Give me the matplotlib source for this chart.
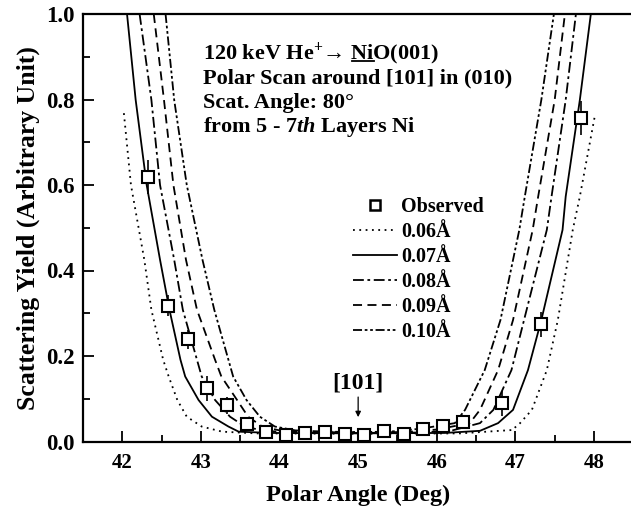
import numpy as np
import matplotlib
matplotlib.use("Agg")
import matplotlib.pyplot as plt
from matplotlib.lines import Line2D

# font: Times-like bold everywhere
plt.rcParams['font.family'] = ['Liberation Serif', 'DejaVu Serif', 'DejaVu Sans']
plt.rcParams['font.weight'] = 'bold'
plt.rcParams['mathtext.fontset'] = 'custom'
plt.rcParams['mathtext.rm'] = 'Liberation Serif:bold'
plt.rcParams['mathtext.bf'] = 'Liberation Serif:bold'
plt.rcParams['mathtext.it'] = 'Liberation Serif:bold:italic'

obs_angle = [42.33, 42.58, 42.83, 43.08, 43.33, 43.58, 43.83, 44.08, 44.33, 44.58,
             44.83, 45.08, 45.33, 45.58, 45.83, 46.08, 46.33, 46.83, 47.33, 47.83]
obs_yield = [0.619, 0.318, 0.239, 0.124, 0.085, 0.041, 0.022, 0.015, 0.019, 0.022,
             0.017, 0.015, 0.025, 0.017, 0.029, 0.037, 0.046, 0.089, 0.274, 0.756]
obs_err = [0.040, 0.025, 0.022, 0.030, 0.020, 0.012, 0.010, 0.008, 0.008, 0.008,
           0.008, 0.008, 0.008, 0.008, 0.010, 0.010, 0.012, 0.030, 0.030, 0.040]

# simulated curves for different thermal vibration amplitudes
x_006 = [42.02, 42.11, 42.28, 42.37, 42.52, 42.59, 42.70, 42.82, 43.01, 43.27, 43.70,
         45.00, 46.30, 46.97, 46.99, 47.06, 47.21, 47.40, 47.54, 47.73, 47.82, 48.01]
y_006 = [0.768, 0.600, 0.425, 0.308, 0.191, 0.152, 0.097, 0.058, 0.035, 0.023, 0.019,
         0.018, 0.019, 0.027, 0.032, 0.043, 0.074, 0.167, 0.284, 0.495, 0.573, 0.761]

x_007 = [42.06, 42.17, 42.31, 42.48, 42.60, 42.74, 42.80, 42.97, 43.14, 43.35, 43.48, 43.90,
         45.00, 46.10, 46.55, 46.78, 46.97, 47.16, 47.33, 47.60, 47.64, 47.82, 47.96]
y_007 = [1.000, 0.799, 0.600, 0.425, 0.308, 0.191, 0.152, 0.097, 0.058, 0.035, 0.023, 0.020,
         0.019, 0.020, 0.025, 0.043, 0.074, 0.167, 0.284, 0.495, 0.573, 0.799, 1.000]

x_008 = [42.22, 42.37, 42.48, 42.66, 42.77, 42.95, 43.01, 43.18, 43.37, 43.56, 43.80, 44.20,
         45.00, 45.80, 46.20, 46.55, 46.72, 46.95, 47.11, 47.40, 47.46, 47.64, 47.77]
y_008 = [1.000, 0.799, 0.600, 0.425, 0.308, 0.191, 0.152, 0.097, 0.058, 0.035, 0.025, 0.021,
         0.020, 0.021, 0.026, 0.043, 0.074, 0.167, 0.284, 0.495, 0.573, 0.799, 1.000]

x_009 = [42.40, 42.53, 42.65, 42.81, 42.95, 43.18, 43.26, 43.46, 43.60, 43.78, 44.00, 44.40,
         45.00, 45.60, 46.00, 46.42, 46.55, 46.78, 46.97, 47.22, 47.29, 47.50, 47.63]
y_009 = [1.000, 0.799, 0.600, 0.425, 0.308, 0.191, 0.152, 0.097, 0.058, 0.035, 0.026, 0.022,
         0.021, 0.022, 0.028, 0.043, 0.074, 0.167, 0.284, 0.495, 0.573, 0.799, 1.000]

x_010 = [42.55, 42.66, 42.82, 43.02, 43.17, 43.35, 43.41, 43.58, 43.75, 43.94, 44.20, 44.60,
         45.00, 45.40, 45.80, 46.23, 46.36, 46.61, 46.81, 47.05, 47.12, 47.33, 47.49]
y_010 = [1.000, 0.799, 0.600, 0.425, 0.308, 0.191, 0.152, 0.097, 0.058, 0.035, 0.026, 0.023,
         0.022, 0.023, 0.030, 0.043, 0.074, 0.167, 0.284, 0.495, 0.573, 0.799, 1.000]

curve_labels = ['0.06\u00c5', '0.07\u00c5', '0.08\u00c5', '0.09\u00c5', '0.10\u00c5']

fig = plt.figure(figsize=(6.31, 5.18), dpi=100)
ax = fig.add_axes([83 / 631, (518 - 441.5) / 518, (633.3 - 83) / 631, 427.5 / 518])

ax.errorbar(obs_angle, obs_yield, yerr=obs_err, fmt='s', ms=8, mfc='white', mec='black',
            mew=1.5, ecolor='black', elinewidth=1.2, capsize=0, zorder=5)

lw = 1.3
h6, = ax.plot(x_006, y_006, color='black', lw=lw, ls=(0, (1, 2.5)), label=curve_labels[0])
h7, = ax.plot(x_007, y_007, color='black', lw=lw, ls='-', label=curve_labels[1])
h8, = ax.plot(x_008, y_008, color='black', lw=lw, ls=(0, (6, 2, 1.5, 2)), label=curve_labels[2])
h9, = ax.plot(x_009, y_009, color='black', lw=lw, ls=(0, (5, 3)), label=curve_labels[3])
h10, = ax.plot(x_010, y_010, color='black', lw=lw, ls=(0, (5, 1.5, 1.5, 1.5, 1.5, 1.5)),
               label=curve_labels[4])
h_obs = Line2D([], [], ls='none', marker='s', ms=6.5, mfc='white', mec='black', mew=1.8)

ax.set_xlim(41.5, 48.5)
ax.set_ylim(0.0, 1.0)
ax.set_xticks([42, 43, 44, 45, 46, 47, 48])
ax.set_xticks(np.arange(41.5, 48.6, 0.5), minor=True)
ax.set_yticks([0.0, 0.2, 0.4, 0.6, 0.8, 1.0])
ax.set_yticks(np.arange(0.1, 1.0, 0.2), minor=True)
ax.tick_params(which='both', direction='in', top=False, right=False, width=1.3)
ax.tick_params(which='major', length=8)
ax.tick_params(which='minor', length=5)
ax.tick_params(axis='x', which='major', labelsize=15, pad=8)
ax.tick_params(axis='y', which='major', labelsize=16.5, pad=6)
ax.yaxis.set_major_formatter(matplotlib.ticker.FormatStrFormatter('%.1f'))
for sp in ax.spines.values():
    sp.set_linewidth(1.6)

ax.set_xlabel('Polar Angle (Deg)', fontsize=17.5, fontweight='bold', labelpad=9)
ax.set_ylabel('Scattering Yield (Arbitrary Unit)', fontsize=18.5, fontweight='bold',
              labelpad=4)

# info block, one text per line
info_x = 43.03
info_fs = 16
line1 = '120 keV He$^{+}$\u2192 NiO(001)'
t1 = ax.text(info_x, 0.896, line1, fontsize=info_fs, fontweight='bold', va='baseline')
ax.text(info_x, 0.838, 'Polar Scan around [101] in (010)', fontsize=info_fs,
        fontweight='bold', va='baseline')
ax.text(info_x, 0.779, 'Scat. Angle: 80\u00b0', fontsize=info_fs, fontweight='bold',
        va='baseline')
ax.text(info_x, 0.724, 'from 5 - 7$\\mathit{th}$ Layers Ni', fontsize=info_fs,
        fontweight='bold', va='baseline')

# underline "Ni" in the first line
renderer = fig.canvas.get_renderer()
def text_width(s):
    tt = ax.text(0, 0, s, fontsize=info_fs, fontweight='bold')
    w = tt.get_window_extent(renderer).width
    tt.remove()
    return w
bb1 = t1.get_window_extent(renderer)
w_o = text_width('O(001)')
w_ni = text_width('Ni')
x_end = bb1.x1 - w_o
x_start = x_end - w_ni
y_base = ax.transData.transform((info_x, 0.896))[1] - 2.5
inv = fig.transFigure.inverted()
p0 = inv.transform((x_start, y_base))
p1 = inv.transform((x_end, y_base))
fig.add_artist(Line2D([p0[0], p1[0]], [p0[1], p1[1]], color='black', lw=1.3))

# [101] marker
ax.text(45.0, 0.123, '[101]', ha='center', va='baseline', fontsize=17, fontweight='bold')
ax.annotate('', xy=(45.0, 0.057), xytext=(45.0, 0.104),
            arrowprops=dict(arrowstyle='-|>', color='black', lw=0.9, mutation_scale=8,
                            shrinkA=0, shrinkB=0))

ax.legend([h_obs, h6, h7, h8, h9, h10], ['Observed'] + curve_labels,
          loc='upper left', bbox_to_anchor=(0.49, 0.572), frameon=False, fontsize=14.5,
          handlelength=2.2, handletextpad=0.2, labelspacing=0.25, borderpad=0,
          borderaxespad=0)

fig.savefig('out.png', dpi=100)
